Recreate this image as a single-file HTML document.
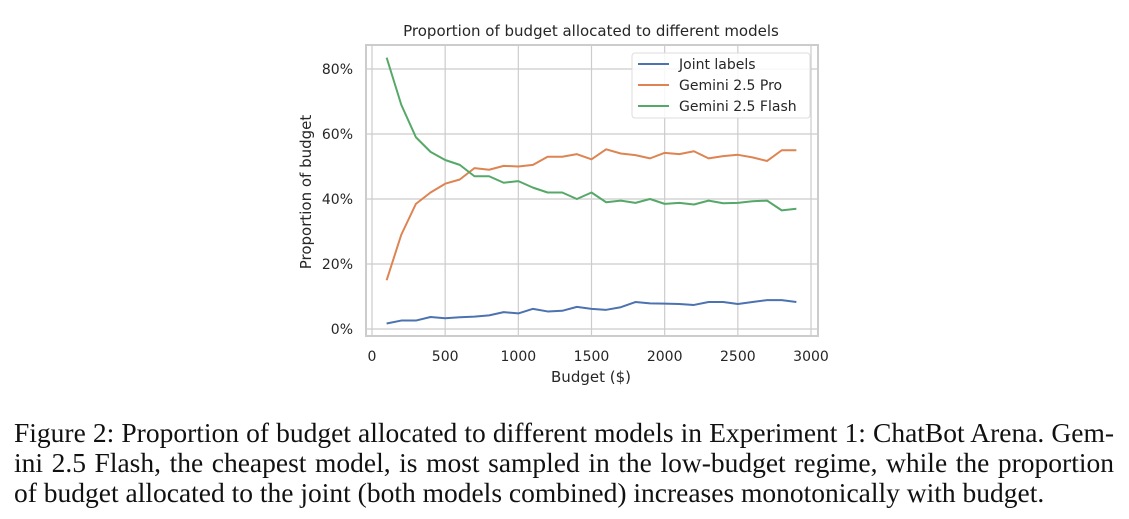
<!DOCTYPE html>
<html><head><meta charset="utf-8"><style>
body{margin:0;background:#fff;width:1129px;height:519px;overflow:hidden;position:relative}
svg text{font-family:"DejaVu Sans","Liberation Sans",sans-serif;fill:#262626}
#cap{position:absolute;left:14px;top:418px;width:1100px;font-family:"Liberation Serif",serif;font-size:27.5px;line-height:30px;color:#111}
#cap div{white-space:nowrap;text-align:justify;text-align-last:justify}
#cap div.last{text-align-last:left}
</style></head><body>
<svg id="chart" width="1129" height="410" style="position:absolute;left:0;top:0">
<text x="591" y="36" text-anchor="middle" font-size="15">Proportion of budget allocated to different models</text>
<rect x="366" y="45" width="452" height="291" fill="#fff" stroke="#ccc" stroke-width="2"/>
<g id="grid"></g><g id="lines"></g><g id="ticks"></g>
<text x="591" y="382" text-anchor="middle" font-size="15">Budget ($)</text>
<text transform="translate(311,192) rotate(-90)" text-anchor="middle" font-size="15">Proportion of budget</text>
<g>
<rect x="632" y="53" width="178" height="65" fill="#fff" fill-opacity="0.85" stroke="#ddd" rx="3"/>
<line x1="638" y1="64" x2="669" y2="64" stroke="#4c72b0" stroke-width="2"/><text x="679" y="69" font-size="14">Joint labels</text>
<line x1="638" y1="85" x2="669" y2="85" stroke="#dd8452" stroke-width="2"/><text x="679" y="90" font-size="14">Gemini 2.5 Pro</text>
<line x1="638" y1="106" x2="669" y2="106" stroke="#55a868" stroke-width="2"/><text x="679" y="111" font-size="14">Gemini 2.5 Flash</text>
</g>
</svg>
<div id="cap">
<div>Figure 2: Proportion of budget allocated to different models in Experiment 1: ChatBot Arena. Gem-</div>
<div>ini 2.5 Flash, the cheapest model, is most sampled in the low-budget regime, while the proportion</div>
<div class="last">of budget allocated to the joint (both models combined) increases monotonically with budget.</div>
</div>
<script>
const budgets=[100,200,300,400,500,600,700,800,900,1000,1100,1200,1300,1400,1500,1600,1700,1800,1900,2000,2100,2200,2300,2400,2500,2600,2700,2800,2900];
const joint=[1.7,2.6,2.6,3.7,3.3,3.6,3.8,4.2,5.2,4.8,6.2,5.4,5.6,6.8,6.2,5.9,6.7,8.3,7.9,7.8,7.7,7.4,8.3,8.3,7.7,8.3,8.9,8.9,8.3];
const pro=[15,29,38.5,42,44.7,46,49.5,49,50.2,50,50.5,53,53,53.8,52.2,55.3,54,53.5,52.5,54.2,53.8,54.7,52.5,53.2,53.6,52.8,51.7,55,55];
const flash=[83.5,69,59,54.5,52,50.5,47,47,45,45.5,43.5,42,42,40,42,39,39.5,38.8,40,38.5,38.8,38.3,39.5,38.7,38.8,39.3,39.5,36.5,37];
const xTicks=[0,500,1000,1500,2000,2500,3000];
const yTicks=[0,20,40,60,80];
const yTickLabels=["0%","20%","40%","60%","80%"];
const NS="http://www.w3.org/2000/svg";
const X=v=>372+v*(439/3000), Y=v=>329-v*3.25;
const grid=document.getElementById('grid'),ticks=document.getElementById('ticks'),lines=document.getElementById('lines');
function mk(tag,attrs,parent){const e=document.createElementNS(NS,tag);for(const k in attrs)e.setAttribute(k,attrs[k]);parent.appendChild(e);return e;}
xTicks.forEach(t=>{
 const l=mk('line',{x1:X(t),x2:X(t),y1:46,y2:335,stroke:'#ccc','stroke-width':1.2},grid);
 
 
 const tx=mk('text',{x:X(t),y:361,'text-anchor':'middle','font-size':14},ticks);tx.textContent=t;
 
 
});
yTicks.forEach((t,i)=>{
 const l=mk('line',{x1:367,x2:817,y1:Y(t),y2:Y(t),stroke:'#ccc','stroke-width':1.2},grid);
 
 
 const tx=mk('text',{x:353,y:Y(t)+5,'text-anchor':'end','font-size':14},ticks);tx.textContent=yTickLabels[i];
 
 
});
[[joint,'#4c72b0','line-joint-labels'],[pro,'#dd8452','line-gemini-pro'],[flash,'#55a868','line-gemini-flash']].forEach(([d,c,n])=>{
 const p=mk('polyline',{points:d.map((v,i)=>X(budgets[i])+','+Y(v)).join(' '),fill:'none',stroke:c,'stroke-width':2,'stroke-linejoin':'round'},lines);
 
 
});
</script>
</body></html>
